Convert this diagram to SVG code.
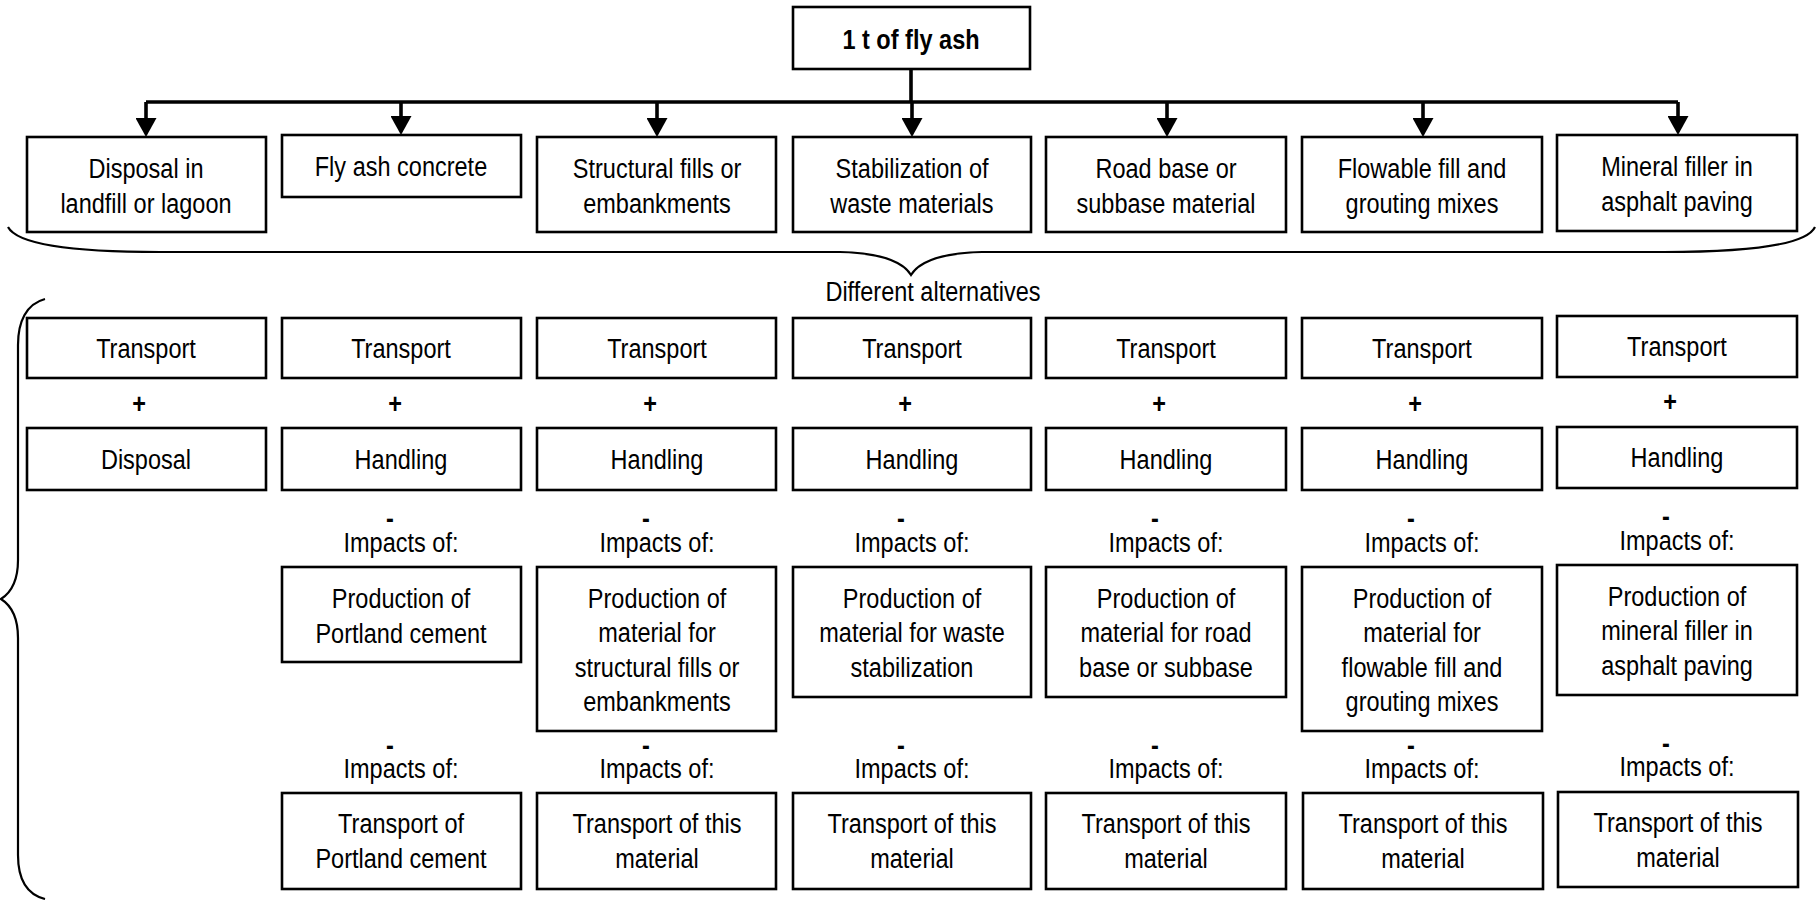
<svg xmlns="http://www.w3.org/2000/svg" width="1817" height="900" viewBox="0 0 1817 900">
<style>
.b{fill:#fff;stroke:#000;stroke-width:2.6}
.t{font-family:"Liberation Sans Narrow","Arial Narrow","Liberation Sans",Arial,sans-serif;font-size:28px;fill:#000;text-anchor:middle;transform-box:fill-box;transform-origin:center;transform:scaleX(0.84)}
.bold{font-weight:bold}
.c{fill:none;stroke:#000;stroke-width:3.6}
.br{fill:none;stroke:#000;stroke-width:2.2}
</style>
<defs>
<marker id="ah" markerUnits="userSpaceOnUse" markerWidth="19" markerHeight="21" viewBox="0 0 19 21" refX="0" refY="10.5" orient="auto">
<path d="M0,0 L19,10.5 L0,21 z" fill="#000"/>
</marker>
</defs>
<rect width="1817" height="900" fill="#fff"/>

<g id="connectors">
<path class="c" d="M911 69 V102"/>
<path class="c" d="M146 102 H1678"/>
<path class="c" d="M146 102 V118" marker-end="url(#ah)"/>
<path class="c" d="M401 102 V116" marker-end="url(#ah)"/>
<path class="c" d="M657 102 V118" marker-end="url(#ah)"/>
<path class="c" d="M912 102 V118" marker-end="url(#ah)"/>
<path class="c" d="M1167 102 V118" marker-end="url(#ah)"/>
<path class="c" d="M1423 102 V118" marker-end="url(#ah)"/>
<path class="c" d="M1678 102 V116" marker-end="url(#ah)"/>
</g>

<g id="braces">
<path class="br" d="M8 227 C18 246 80 252 160 252 L840 252 C880 253 903 262 911 275 C919 262 942 253 982 252 L1664 252 C1744 252 1806 246 1815 227"/>
<path class="br" d="M45 299 C26 304 18 322 18 345 L18 560 C18 580 12 592 1 599 C12 606 18 618 18 638 L18 855 C18 878 25 894 45 899"/>
<text class="t" x="933" y="301">Different alternatives</text>
</g>

<g id="top"><rect class="b" x="793" y="7" width="237" height="62"/><text class="t bold" x="911" y="49">1 t of fly ash</text></g>

<g id="alt1"><rect class="b" x="27" y="137" width="239" height="95"/><text class="t" x="146" y="178">Disposal in</text><text class="t" x="146" y="213">landfill or lagoon</text></g>
<g id="alt2"><rect class="b" x="282" y="135" width="239" height="62"/><text class="t" x="401" y="176">Fly ash concrete</text></g>
<g id="alt3"><rect class="b" x="537" y="137" width="239" height="95"/><text class="t" x="657" y="178">Structural fills or</text><text class="t" x="657" y="213">embankments</text></g>
<g id="alt4"><rect class="b" x="793" y="137" width="238" height="95"/><text class="t" x="912" y="178">Stabilization of</text><text class="t" x="912" y="213">waste materials</text></g>
<g id="alt5"><rect class="b" x="1046" y="137" width="240" height="95"/><text class="t" x="1166" y="178">Road base or</text><text class="t" x="1166" y="213">subbase material</text></g>
<g id="alt6"><rect class="b" x="1302" y="137" width="240" height="95"/><text class="t" x="1422" y="178">Flowable fill and</text><text class="t" x="1422" y="213">grouting mixes</text></g>
<g id="alt7"><rect class="b" x="1557" y="135" width="240" height="96"/><text class="t" x="1677" y="176">Mineral filler in</text><text class="t" x="1677" y="211">asphalt paving</text></g>

<g id="tr1"><rect class="b" x="27" y="318" width="239" height="60"/><text class="t" x="146" y="358">Transport</text></g>
<g id="tr2"><rect class="b" x="282" y="318" width="239" height="60"/><text class="t" x="401" y="358">Transport</text></g>
<g id="tr3"><rect class="b" x="537" y="318" width="239" height="60"/><text class="t" x="657" y="358">Transport</text></g>
<g id="tr4"><rect class="b" x="793" y="318" width="238" height="60"/><text class="t" x="912" y="358">Transport</text></g>
<g id="tr5"><rect class="b" x="1046" y="318" width="240" height="60"/><text class="t" x="1166" y="358">Transport</text></g>
<g id="tr6"><rect class="b" x="1302" y="318" width="240" height="60"/><text class="t" x="1422" y="358">Transport</text></g>
<g id="tr7"><rect class="b" x="1557" y="316" width="240" height="61"/><text class="t" x="1677" y="356">Transport</text></g>

<g id="plus">
<text class="t bold" x="139" y="413">+</text>
<text class="t bold" x="395" y="413">+</text>
<text class="t bold" x="650" y="413">+</text>
<text class="t bold" x="905" y="413">+</text>
<text class="t bold" x="1159" y="413">+</text>
<text class="t bold" x="1415" y="413">+</text>
<text class="t bold" x="1670" y="411">+</text>
</g>

<g id="h1"><rect class="b" x="27" y="428" width="239" height="62"/><text class="t" x="146" y="469">Disposal</text></g>
<g id="h2"><rect class="b" x="282" y="428" width="239" height="62"/><text class="t" x="401" y="469">Handling</text></g>
<g id="h3"><rect class="b" x="537" y="428" width="239" height="62"/><text class="t" x="657" y="469">Handling</text></g>
<g id="h4"><rect class="b" x="793" y="428" width="238" height="62"/><text class="t" x="912" y="469">Handling</text></g>
<g id="h5"><rect class="b" x="1046" y="428" width="240" height="62"/><text class="t" x="1166" y="469">Handling</text></g>
<g id="h6"><rect class="b" x="1302" y="428" width="240" height="62"/><text class="t" x="1422" y="469">Handling</text></g>
<g id="h7"><rect class="b" x="1557" y="427" width="240" height="61"/><text class="t" x="1677" y="467">Handling</text></g>

<g id="impacts1">
<text class="t bold" x="390" y="528">-</text><text class="t" x="401" y="552">Impacts of:</text>
<text class="t bold" x="646" y="528">-</text><text class="t" x="657" y="552">Impacts of:</text>
<text class="t bold" x="901" y="528">-</text><text class="t" x="912" y="552">Impacts of:</text>
<text class="t bold" x="1155" y="528">-</text><text class="t" x="1166" y="552">Impacts of:</text>
<text class="t bold" x="1411" y="528">-</text><text class="t" x="1422" y="552">Impacts of:</text>
<text class="t bold" x="1666" y="526">-</text><text class="t" x="1677" y="550">Impacts of:</text>
</g>

<g id="p2"><rect class="b" x="282" y="567" width="239" height="95"/><text class="t" x="401" y="608">Production of</text><text class="t" x="401" y="643">Portland cement</text></g>
<g id="p3"><rect class="b" x="537" y="567" width="239" height="164"/><text class="t" x="657" y="608">Production of</text><text class="t" x="657" y="642.5">material for</text><text class="t" x="657" y="677">structural fills or</text><text class="t" x="657" y="711.5">embankments</text></g>
<g id="p4"><rect class="b" x="793" y="567" width="238" height="130"/><text class="t" x="912" y="608">Production of</text><text class="t" x="912" y="642.5">material for waste</text><text class="t" x="912" y="677">stabilization</text></g>
<g id="p5"><rect class="b" x="1046" y="567" width="240" height="130"/><text class="t" x="1166" y="608">Production of</text><text class="t" x="1166" y="642.5">material for road</text><text class="t" x="1166" y="677">base or subbase</text></g>
<g id="p6"><rect class="b" x="1302" y="567" width="240" height="164"/><text class="t" x="1422" y="608">Production of</text><text class="t" x="1422" y="642.5">material for</text><text class="t" x="1422" y="677">flowable fill and</text><text class="t" x="1422" y="711.5">grouting mixes</text></g>
<g id="p7"><rect class="b" x="1557" y="565" width="240" height="130"/><text class="t" x="1677" y="606">Production of</text><text class="t" x="1677" y="640.5">mineral filler in</text><text class="t" x="1677" y="675">asphalt paving</text></g>

<g id="impacts2">
<text class="t bold" x="390" y="755">-</text><text class="t" x="401" y="778">Impacts of:</text>
<text class="t bold" x="646" y="755">-</text><text class="t" x="657" y="778">Impacts of:</text>
<text class="t bold" x="901" y="755">-</text><text class="t" x="912" y="778">Impacts of:</text>
<text class="t bold" x="1155" y="755">-</text><text class="t" x="1166" y="778">Impacts of:</text>
<text class="t bold" x="1411" y="755">-</text><text class="t" x="1422" y="778">Impacts of:</text>
<text class="t bold" x="1666" y="753">-</text><text class="t" x="1677" y="776">Impacts of:</text>
</g>

<g id="q2"><rect class="b" x="282" y="793" width="239" height="96"/><text class="t" x="401" y="833">Transport of</text><text class="t" x="401" y="868">Portland cement</text></g>
<g id="q3"><rect class="b" x="537" y="793" width="239" height="96"/><text class="t" x="657" y="833">Transport of this</text><text class="t" x="657" y="868">material</text></g>
<g id="q4"><rect class="b" x="793" y="793" width="238" height="96"/><text class="t" x="912" y="833">Transport of this</text><text class="t" x="912" y="868">material</text></g>
<g id="q5"><rect class="b" x="1046" y="793" width="240" height="96"/><text class="t" x="1166" y="833">Transport of this</text><text class="t" x="1166" y="868">material</text></g>
<g id="q6"><rect class="b" x="1303" y="793" width="240" height="96"/><text class="t" x="1423" y="833">Transport of this</text><text class="t" x="1423" y="868">material</text></g>
<g id="q7"><rect class="b" x="1558" y="792" width="240" height="95"/><text class="t" x="1678" y="832">Transport of this</text><text class="t" x="1678" y="867">material</text></g>
</svg>
